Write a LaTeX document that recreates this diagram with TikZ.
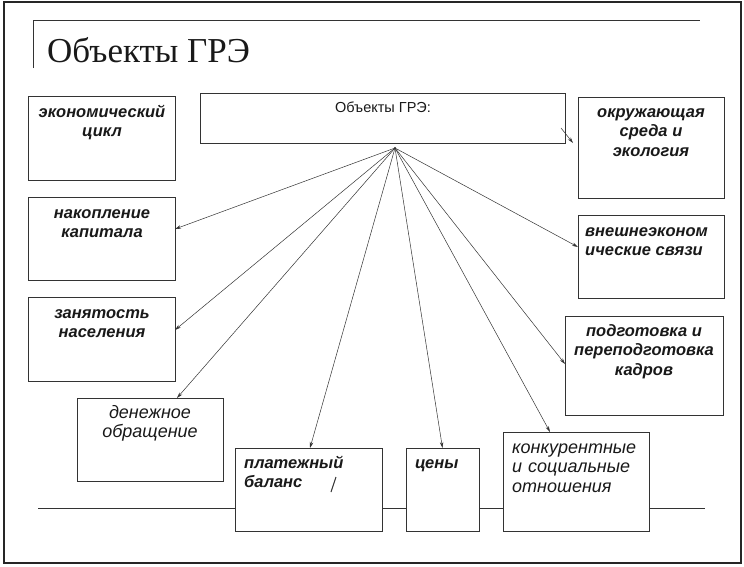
\documentclass[tikz,border=0pt]{standalone}
\usepackage{fontspec}
\setmainfont{Liberation Serif}
\newfontfamily\sansf{Liberation Sans}[BoldFont={Liberation Sans Bold}, ItalicFont={Liberation Sans Italic}, BoldItalicFont={Liberation Sans Bold Italic}]
\usetikzlibrary{arrows.meta,calc}
\newcommand\mybox[5]{\node[box, minimum width={(#4)-(#2)}, minimum height={(#5)-(#3)}] (#1) at (#2,#3) {};}
\begin{document}
\begin{tikzpicture}[x=1pt,y=-1pt,
  box/.style={draw=black!80, line width=0.7pt, fill=white, inner sep=0pt, outer sep=0pt, anchor=north west},
  bi/.style={font=\sansf\bfseries\itshape\fontsize{16.5}{19.5}\selectfont, inner sep=0pt, text=black!90},
  itx/.style={font=\sansf\itshape\fontsize{18}{19.5}\selectfont, inner sep=0pt, text=black!90},
  arr/.style={-{Stealth[length=6pt,width=3.5pt]}, line width=0.5pt, draw=black!80},
  frame/.style={draw=black!85, line width=1.1pt}]
\useasboundingbox (0,0) rectangle (744,566);
% outer frame
\draw[frame] (4,2) rectangle (741,563);
% title bracket
\coordinate (tl) at (33,68);
\coordinate (tc) at (33,20);
\coordinate (tr) at (700,20);
\draw[line width=0.7pt, draw=black!80] (tl) -- (tc) -- (tr);
\node[anchor=base west, inner sep=0pt, font=\fontsize{35}{40}\selectfont, text=black!90] (title) at (47,62) {Объекты ГРЭ};
% bottom line
\coordinate (bl) at (38,508);
\coordinate (br) at (705,508);
\draw[line width=0.7pt, draw=black!80] (bl) -- (br);
% boxes
\mybox{cen}{200}{93}{565}{143}
\mybox{ec}{28}{96}{175}{180}
\mybox{nak}{28}{197}{175}{280}
\mybox{zan}{28}{297}{175}{381}
\mybox{den}{77}{398}{223}{481}
\mybox{plat}{235}{448}{382}{531}
\mybox{tseny}{406}{448}{479}{531}
\mybox{konk}{503}{432}{649}{531}
\mybox{okr}{578}{97}{724}{198}
\mybox{vne}{578}{215}{724}{298}
\mybox{pod}{565}{316}{723}{415}
% texts
\node[anchor=base, inner sep=0pt, font=\sansf\fontsize{14.5}{17}\selectfont, text=black!90] (cen-t) at (383,112) {Объекты ГРЭ:};
\node[bi, anchor=north, align=center] (ec-t) at (102,103.35) {\strut экономический\\цикл};
\node[bi, anchor=north, align=center] (nak-t) at (102,204.35) {\strut накопление\\капитала};
\node[bi, anchor=north, align=center] (zan-t) at (102,304.35) {\strut занятость\\населения};
\node[bi, anchor=north, align=center] (okr-t) at (651,103.35) {\strut окружающая\\среда и\\экология};
\node[bi, anchor=north west, align=left] (vne-t) at (585,222.35) {\strut внешнеэконом\\ические связи};
\node[bi, anchor=north, align=center] (pod-t) at (644,322.35) {\strut подготовка и\\переподготовка\\кадров};
\node[itx, anchor=north, align=center] (den-t) at (150,404.35) {\strut денежное\\обращение};
\node[bi, anchor=north west, align=left] (plat-t) at (244,454.35) {\strut платежный\\баланс};
\node[bi, anchor=north west, align=left] (tseny-t) at (415,454.35) {\strut цены};
\node[itx, anchor=north west, align=left, text width=122pt] (konk-t) at (512,439.35) {\strut конкурентные\\\makebox[\linewidth][s]{и социальные}\\отношения};
% stray mark in платежный баланс
\draw[line width=1pt, draw=black!80] ([xshift=-51pt,yshift=-44pt]plat.north east) -- ([xshift=-46pt,yshift=-29pt]plat.north east);
% connectors
\coordinate (apex) at ([xshift=12.5pt,yshift=-5pt]cen.south);
\fill[black!80] (apex) circle (1.2pt);
\draw[arr] (apex) -- ([yshift=9.5pt]nak.east);
\draw[arr] (apex) -- ([yshift=9pt]zan.east);
\draw[arr] (apex) -- ([xshift=27pt]den.north);
\draw[arr] (apex) -- ([xshift=1.5pt]plat.north);
\draw[arr] (apex) -- (tseny.north);
\draw[arr] (apex) -- ([xshift=-26pt]konk.north);
\draw[arr] (apex) -- ([yshift=1.5pt]pod.west);
\draw[arr] (apex) -- ([yshift=9.5pt]vne.west);
\coordinate (stray) at ([xshift=-4pt,yshift=-35pt]cen.north east);
\draw[arr] (stray) -- ([xshift=-5pt,yshift=4.5pt]okr.west);
\end{tikzpicture}
\end{document}
